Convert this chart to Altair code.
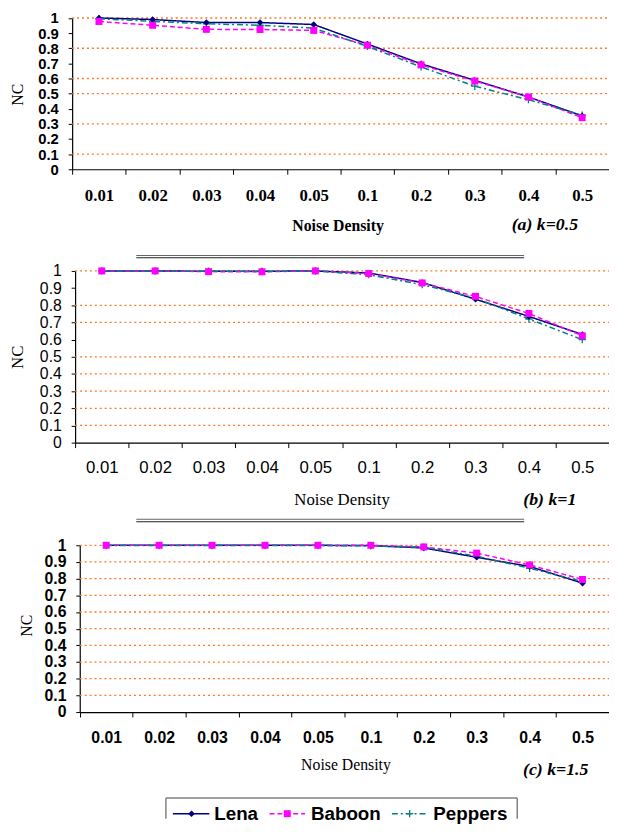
import altair as alt
import pandas as pd

categories = ["0.01", "0.02", "0.03", "0.04", "0.05", "0.1", "0.2", "0.3", "0.4", "0.5"]
series_names = ["Lena", "Baboon", "Peppers"]
series_colors = ["#000080", "#FF00FF", "#008080"]
series_dashes = [[1, 0], [5, 3], [6, 3, 2, 3]]

# (a) k=0.5
a_lena = [1.0, 0.99, 0.97, 0.97, 0.957, 0.828, 0.697, 0.588, 0.478, 0.353]
a_baboon = [0.977, 0.952, 0.925, 0.924, 0.918, 0.82, 0.69, 0.583, 0.478, 0.341]
a_peppers = [0.995, 0.978, 0.962, 0.952, 0.933, 0.812, 0.677, 0.549, 0.46, 0.357]
# (b) k=1
b_lena = [1.0, 1.0, 0.998, 0.998, 1.0, 0.988, 0.933, 0.835, 0.735, 0.63]
b_baboon = [1.0, 1.0, 0.996, 0.995, 1.0, 0.985, 0.93, 0.852, 0.752, 0.622]
b_peppers = [1.0, 0.999, 0.998, 0.997, 0.999, 0.978, 0.92, 0.842, 0.72, 0.60]
# (c) k=1.5
c_lena = [1.0, 1.0, 1.0, 1.0, 1.0, 0.998, 0.984, 0.928, 0.873, 0.773]
c_baboon = [1.0, 1.0, 1.0, 1.0, 1.0, 1.0, 0.99, 0.953, 0.882, 0.795]
c_peppers = [0.998, 0.998, 0.998, 0.998, 0.998, 0.996, 0.988, 0.935, 0.862, 0.783]

captions = ["(a) k=0.5", "(b) k=1", "(c)  k=1.5"]
y_ticks = [0, 0.1, 0.2, 0.3, 0.4, 0.5, 0.6, 0.7, 0.8, 0.9, 1]
grid_a = [0.1, 0.3, 0.5, 0.6, 0.8, 1]
grid_b = [0.1, 0.2, 0.3, 0.4, 0.5, 0.7, 0.8, 1]
grid_c = [0.1, 0.2, 0.3, 0.4, 0.5, 0.6, 0.7, 0.8, 0.9, 1]
x_title = "Noise Density"
y_title = "NC"

W, H = 609, 816
SERIF = "Liberation Serif"
SANS = "Liberation Sans"

layouts = [
    dict(x0=65, ybot=158, ytop=4.7,
         ylf=SANS, yls=15, ylw="bold",
         xlf=SERIF, xls=17, xlw="bold", xlp=14,
         xtf=SERIF, xts=16, xtw="bold", xtx=334, xty=57,
         ytx=-55, yty=82, yts=16,
         cx=544, cy=215, cs=18, dbl=None),
    dict(x0=68, ybot=435, ytop=261,
         ylf=SANS, yls=16, ylw="normal",
         xlf=SANS, xls=17, xlw="normal", xlp=12.5,
         xtf=SERIF, xts=17, xtw="normal", xtx=338, xty=58,
         ytx=-58, yty=348, yts=17,
         cx=549, cy=493, cs=18, dbl=245.3),
    dict(x0=72.7, ybot=708, ytop=539,
         ylf=SANS, yls=16, ylw="bold",
         xlf=SANS, xls=16, xlw="bold", xlp=13,
         xtf=SERIF, xts=16, xtw="normal", xtx=342, xty=53,
         ytx=-53.7, yty=620, yts=16,
         cx=555, cy=767, cs=18, dbl=512.7),
]


def panel(vals, grid, cap, L):
    rows = []
    for s, arr in zip(series_names, vals):
        for i, (c, v) in enumerate(zip(categories, arr)):
            rows.append({"nd": c, "idx": i, "series": s, "nc": v})
    df = pd.DataFrame(rows)
    xs = alt.Scale(type="band", domain=categories, range=[L["x0"], W],
                   paddingInner=0, paddingOuter=0)
    ys = alt.Scale(type="linear", domain=[0, 1], range=[L["ybot"], L["ytop"]],
                   nice=False, zero=False)
    xaxis = alt.Axis(orient="bottom", offset=L["ybot"] - H, tickBand="extent",
                     ticks=True, tickSize=5, tickColor="black", tickWidth=1,
                     domainColor="black", domainWidth=1.2, labelAngle=0,
                     labelPadding=L["xlp"], labelFont=L["xlf"], labelFontSize=L["xls"],
                     labelFontWeight=L["xlw"], labelColor="black", grid=False,
                     title=x_title, titleFont=L["xtf"], titleFontSize=L["xts"],
                     titleFontWeight=L["xtw"], titleColor="black",
                     titleX=L["xtx"], titleY=L["xty"], titleBaseline="middle",
                     titleAlign="center")
    yaxis = alt.Axis(orient="left", offset=-L["x0"], values=y_ticks, format="~g",
                     tickSize=4, tickColor="black", domainColor="black", domainWidth=1.2,
                     labelPadding=10, labelFont=L["ylf"], labelFontSize=L["yls"],
                     labelFontWeight=L["ylw"], labelColor="black", labelOverlap=False,
                     grid=False, title=y_title, titleFont=SERIF, titleFontSize=L["yts"],
                     titleFontWeight="normal", titleColor="black", titleAngle=270,
                     titleX=L["ytx"], titleY=L["yty"], titleBaseline="middle",
                     titleAlign="center")
    X = alt.X("nd:N", sort=categories, scale=xs, axis=xaxis, bandPosition=0.5)
    Y = alt.Y("nc:Q", scale=ys, axis=yaxis)

    gdf = pd.DataFrame({"nc": grid})
    grid_layer = alt.Chart(gdf).mark_rule(color="#FF7722", strokeWidth=1.3,
                                           strokeDash=[2, 3]).encode(
        y=Y, x=alt.value(L["x0"]), x2=alt.value(W))

    lines = alt.Chart(df).mark_line(strokeWidth=1.5).encode(
        x=X, y=Y,
        color=alt.Color("series:N", scale=alt.Scale(domain=series_names, range=series_colors), legend=None),
        strokeDash=alt.StrokeDash("series:N", scale=alt.Scale(domain=series_names, range=series_dashes), legend=None),
        order=alt.Order("idx:Q"))

    pep = alt.Chart(df).transform_filter(alt.datum.series == "Peppers").mark_point(
        shape="M-1,0H1M0,-1V1", size=55, filled=False, opacity=1, strokeWidth=1.3,
        color=series_colors[2]).encode(x=X, y=Y)
    lena = alt.Chart(df).transform_filter(alt.datum.series == "Lena").mark_point(
        shape="diamond", size=45, filled=True, opacity=1,
        color=series_colors[0]).encode(x=X, y=Y)
    bab = alt.Chart(df).transform_filter(alt.datum.series == "Baboon").mark_point(
        shape="square", size=50, filled=True, opacity=1,
        color=series_colors[1]).encode(x=X, y=Y)

    caption = alt.Chart(pd.DataFrame({"t": [cap]})).mark_text(
        font=SERIF, fontSize=L["cs"], fontWeight="bold", fontStyle="italic",
        align="center", baseline="middle", color="black").encode(
        text="t:N", x=alt.value(L["cx"]), y=alt.value(L["cy"]))

    layers = [grid_layer, lines, pep, lena, bab, caption]
    if L["dbl"] is not None:
        one = pd.DataFrame({"k": [0]})
        for dy, col in [(0, "#666666"), (2.4, "#222222")]:
            layers.append(alt.Chart(one).mark_rule(color=col, strokeWidth=1.1).encode(
                x=alt.value(130), x2=alt.value(523), y=alt.value(L["dbl"] + dy)))
    return alt.layer(*layers)


pa = panel([a_lena, a_baboon, a_peppers], grid_a, captions[0], layouts[0])
pb = panel([b_lena, b_baboon, b_peppers], grid_b, captions[1], layouts[1])
pc = panel([c_lena, c_baboon, c_peppers], grid_c, captions[2], layouts[2])

# legend (drawn manually)
LY = 811
one = pd.DataFrame({"k": [0]})
legend_layers = [
    alt.Chart(one).mark_rule(color="#808080", strokeWidth=1.5).encode(
        x=alt.value(160), x2=alt.value(516), y=alt.value(795)),
    alt.Chart(one).mark_rule(color="#808080", strokeWidth=1.5).encode(
        x=alt.value(160), y=alt.value(795), y2=alt.value(H)),
    alt.Chart(one).mark_rule(color="#808080", strokeWidth=1.5).encode(
        x=alt.value(516), y=alt.value(795), y2=alt.value(H)),
]
leg_pos = [(167, 204, 186, 209), (265, 301, 283, 307), (389, 425, 407, 431)]
leg_shape = [("diamond", 45, True), ("square", 50, True), ("M-1,0H1M0,-1V1", 55, False)]
for i, name in enumerate(series_names):
    x0, x1, mx, tx = leg_pos[i]
    shp, sz, fl = leg_shape[i]
    legend_layers.append(alt.Chart(one).mark_rule(
        color=series_colors[i], strokeWidth=1.5, strokeDash=series_dashes[i]).encode(
        x=alt.value(x0), x2=alt.value(x1), y=alt.value(LY)))
    legend_layers.append(alt.Chart(one).mark_point(
        shape=shp, size=sz, filled=fl, opacity=1, strokeWidth=1.3,
        color=series_colors[i]).encode(x=alt.value(mx), y=alt.value(LY)))
    legend_layers.append(alt.Chart(pd.DataFrame({"s": [name]})).mark_text(
        font=SANS, fontSize=19, fontWeight="bold", align="left", baseline="middle",
        color="black").encode(text="s:N", x=alt.value(tx), y=alt.value(LY)))

chart = alt.layer(pa, pb, pc, *legend_layers).resolve_scale(
    x="independent", y="independent"
).properties(
    width=W, height=H, padding=0,
    autosize=alt.AutoSizeParams(type="none"),
).configure_view(stroke=None)

chart.save("out.html", embed_options={"renderer": "svg", "actions": False})
